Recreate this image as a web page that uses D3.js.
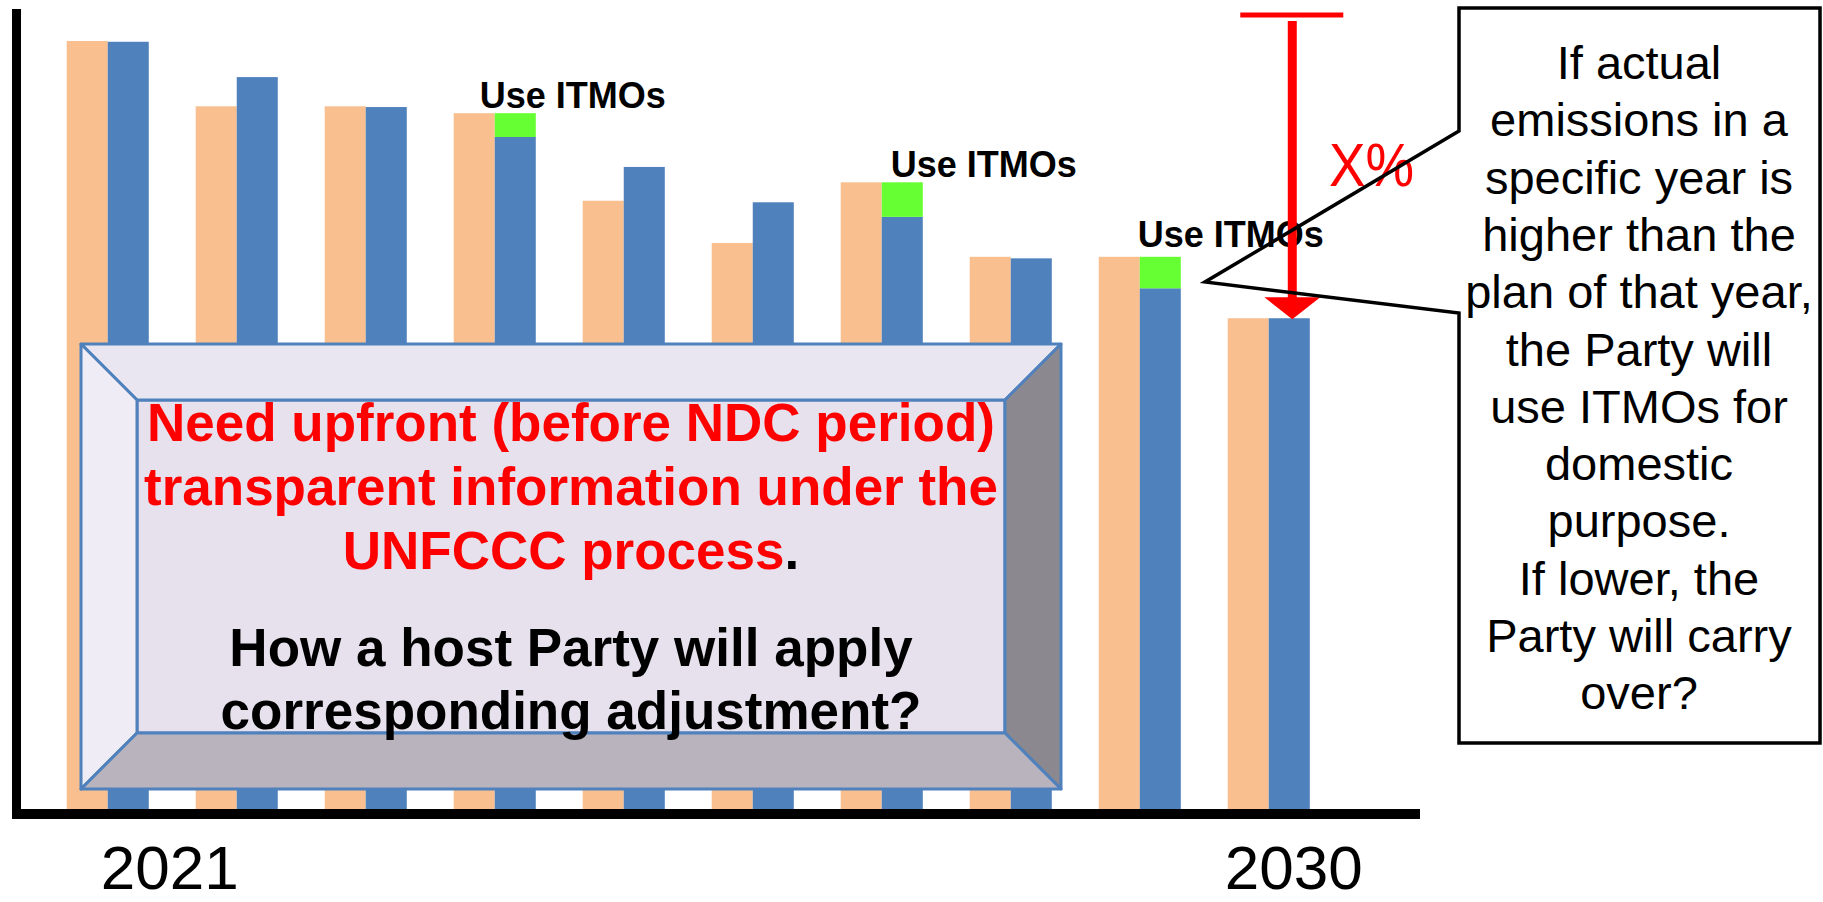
<!DOCTYPE html>
<html>
<head>
<meta charset="utf-8">
<script src="https://cdn.jsdelivr.net/npm/d3@7"></script>
<style>
  html, body { margin: 0; padding: 0; background: #ffffff; }
  svg { display: block; font-family: "Liberation Sans", Arial, sans-serif; }
</style>
</head>
<body>
<svg id="chart" width="1823" height="902"></svg>
<script>
// ---- data ----
const years = [2021, 2022, 2023, 2024, 2025, 2026, 2027, 2028, 2029, 2030];
const planned = [100, 91.5, 91.5, 90.6, 79.2, 73.7, 81.6, 71.9, 71.9, 63.9];
const actual  = [99.9, 95.3, 91.4, 87.5, 83.6, 79.0, 77.1, 71.7, 67.8, 63.9];
const itmos   = [0, 0, 0, 3.1, 0, 0, 4.5, 0, 4.1, 0];
const baseLevel = 103.4;
const tickYears = [2021, 2030];
const itmoLabel = "Use ITMOs";
const boxRedLines = ["Need upfront (before NDC period)", "transparent information under the", "UNFCCC process"];
const boxBlackLines = ["How a host Party will apply", "corresponding adjustment?"];
const calloutLines = ["If actual", "emissions in a", "specific year is", "higher than the",
  "plan of that year,", "the Party will", "use ITMOs for", "domestic", "purpose.",
  "If lower, the", "Party will carry", "over?"];

// ---- layout ----
const svg = d3.select("#chart");
const x = d3.scaleBand().domain(years).range([66.7, 1309.8]).paddingInner(0.3638).paddingOuter(0);
const xs = d3.scaleBand().domain(["plan", "actual"]).range([0, x.bandwidth()]).padding(0);
const y = d3.scaleLinear().domain([0, 100]).range([809, 41]);

const cOrange = "#F9BF8F", cBlue = "#4F81BD", cGreen = "#66FF33", cRed = "#FF0000";

const rows = years.map((yr, i) => ({ yr, plan: planned[i], act: actual[i], itmo: itmos[i] }));

// bars
const g = svg.append("g");
g.selectAll("rect.plan").data(rows).join("rect").attr("class", "plan")
  .attr("x", d => x(d.yr) + xs("plan")).attr("width", xs.bandwidth())
  .attr("y", d => y(d.plan)).attr("height", d => y(0) - y(d.plan))
  .attr("fill", cOrange);
g.selectAll("rect.act").data(rows).join("rect").attr("class", "act")
  .attr("x", d => x(d.yr) + xs("actual")).attr("width", xs.bandwidth())
  .attr("y", d => y(d.act)).attr("height", d => y(0) - y(d.act))
  .attr("fill", cBlue);
const itRows = rows.filter(d => d.itmo > 0);
g.selectAll("rect.itmo").data(itRows).join("rect").attr("class", "itmo")
  .attr("x", d => x(d.yr) + xs("actual")).attr("width", xs.bandwidth())
  .attr("y", d => y(d.act + d.itmo)).attr("height", d => y(d.act) - y(d.act + d.itmo))
  .attr("fill", cGreen);

// ITMO labels
const labelDx = [-15, 9, -2], labelDy = [-5, -5, -10];
g.selectAll("text.itmo").data(itRows).join("text").attr("class", "itmo")
  .attr("x", (d, i) => x(d.yr) + xs("actual") + labelDx[i])
  .attr("y", (d, i) => y(d.act + d.itmo) + labelDy[i])
  .attr("font-size", 36).attr("font-weight", "bold").attr("fill", "#000")
  .text(itmoLabel);

// axes
svg.append("line").attr("x1", 16.5).attr("x2", 16.5).attr("y1", 9).attr("y2", 819)
  .attr("stroke", "#000").attr("stroke-width", 9);
svg.append("line").attr("x1", 12).attr("x2", 1420).attr("y1", 814).attr("y2", 814)
  .attr("stroke", "#000").attr("stroke-width", 10);

// year labels
const tickDx = [62, 25], tickY = [889, 889];
svg.selectAll("text.tick").data(tickYears).join("text").attr("class", "tick")
  .attr("x", (d, i) => x(d) + x.bandwidth() / 2 + tickDx[i])
  .attr("y", (d, i) => tickY[i])
  .attr("text-anchor", "middle").attr("font-size", 62).attr("fill", "#000")
  .text(d => d);

// red arrow (reduction from base level to 2030 target)
const last = rows[rows.length - 1];
const ax = x(last.yr) + xs("actual") + xs.bandwidth() / 2 + 3;
svg.append("line").attr("x1", ax - 52).attr("x2", ax + 51).attr("y1", y(baseLevel)).attr("y2", y(baseLevel))
  .attr("stroke", cRed).attr("stroke-width", 5);
svg.append("line").attr("x1", ax).attr("x2", ax).attr("y1", y(baseLevel) + 6).attr("y2", y(last.act) - 20)
  .attr("stroke", cRed).attr("stroke-width", 9);
svg.append("path")
  .attr("d", `M${ax - 28},${y(last.act) - 21} L${ax + 28},${y(last.act) - 21} L${ax},${y(last.act) + 1} Z`)
  .attr("fill", cRed);
svg.append("text").attr("x", 1329).attr("y", 186).attr("font-size", 62).attr("fill", cRed)
  .attr("textLength", 85).attr("lengthAdjust", "spacingAndGlyphs").text("X%");

// bevel box
const bx0 = 81, by0 = 344, bx1 = 1061, by1 = 789, ix0 = 137, iy0 = 400, ix1 = 1005, iy1 = 733;
const bev = svg.append("g").attr("stroke", cBlue).attr("stroke-width", 3).attr("stroke-linejoin", "round");
bev.append("polygon").attr("points", `${ix0},${iy0} ${ix1},${iy0} ${ix1},${iy1} ${ix0},${iy1}`).attr("fill", "#E6E1EC");
bev.append("polygon").attr("points", `${bx0},${by0} ${bx1},${by0} ${ix1},${iy0} ${ix0},${iy0}`).attr("fill", "#EAE6F1");
bev.append("polygon").attr("points", `${bx0},${by0} ${ix0},${iy0} ${ix0},${iy1} ${bx0},${by1}`).attr("fill", "#EFECF5");
bev.append("polygon").attr("points", `${bx1},${by0} ${bx1},${by1} ${ix1},${iy1} ${ix1},${iy0}`).attr("fill", "#8C888F");
bev.append("polygon").attr("points", `${bx0},${by1} ${ix0},${iy1} ${ix1},${iy1} ${bx1},${by1}`).attr("fill", "#B9B3BE");

const cx = 571;
const redY = [441, 505, 569];
boxRedLines.forEach((t, i) => {
  const tx = svg.append("text").attr("x", cx).attr("y", redY[i]).attr("text-anchor", "middle")
    .attr("font-size", 53).attr("font-weight", "bold").attr("fill", cRed);
  tx.append("tspan").text(t);
  if (i === boxRedLines.length - 1) tx.append("tspan").attr("fill", "#000").text(".");
});
const blackY = [666, 729];
boxBlackLines.forEach((t, i) => {
  svg.append("text").attr("x", cx).attr("y", blackY[i]).attr("text-anchor", "middle")
    .attr("font-size", 53).attr("font-weight", "bold").attr("fill", "#000").text(t);
});

// callout
svg.append("path").attr("d", "M1459,8 H1820 V743 H1459 V313 L1205,282 L1459,131 Z")
  .attr("fill", "none").attr("stroke", "#000").attr("stroke-width", 3.5).attr("stroke-linejoin", "miter");
calloutLines.forEach((t, i) => {
  svg.append("text").attr("x", 1639).attr("y", 79 + i * 57.3).attr("text-anchor", "middle")
    .attr("font-size", 47).attr("fill", "#000").text(t);
});
</script>
</body>
</html>
